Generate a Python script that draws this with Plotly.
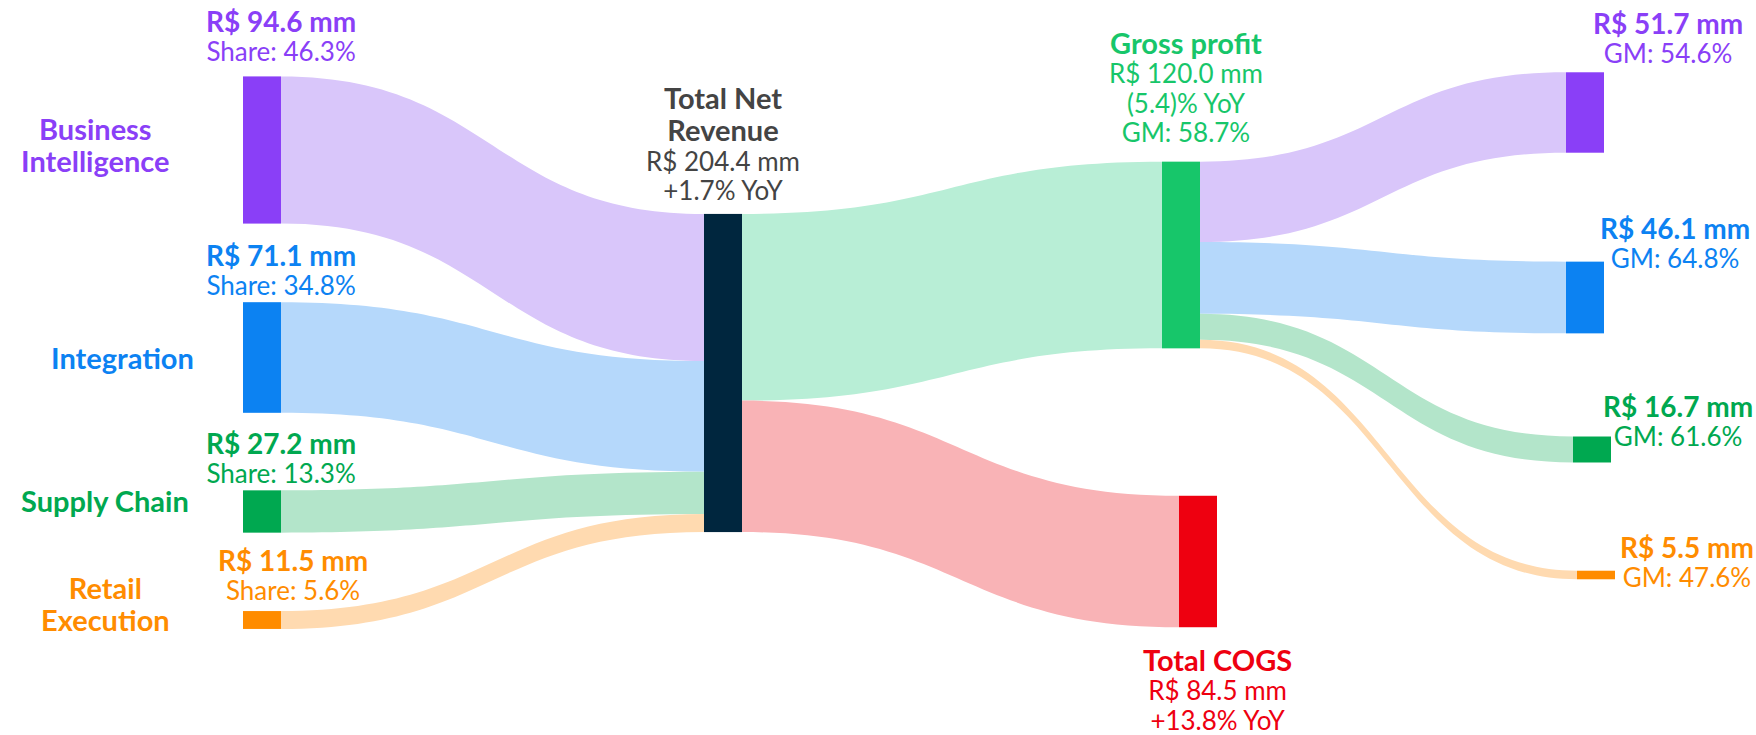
import plotly.graph_objects as go

W, H = 1756, 735

# ---------------- data ----------------
segments = ["Business Intelligence", "Integration", "Supply Chain", "Retail Execution"]
segment_label_lines = [["Business", "Intelligence"], ["Integration"], ["Supply Chain"], ["Retail", "Execution"]]
segment_revenue = [94.6, 71.1, 27.2, 11.5]
segment_share = [46.3, 34.8, 13.3, 5.6]
segment_gross_profit = [51.7, 46.1, 16.7, 5.5]
segment_gm = [54.6, 64.8, 61.6, 47.6]

total_revenue = 204.4
revenue_yoy = "+1.7%"
gross_profit = 120.0
gross_profit_yoy = "(5.4)%"
gross_margin = 58.7
total_cogs = 84.5
cogs_yoy = "+13.8%"

# ---------------- styles ----------------
seg_colors = ["#8A3FF7", "#0C82F2", "#00A850", "#FF8C00"]
seg_link_colors = ["#D9C6FA", "#B5D8FB", "#B3E5CA", "#FFDAB0"]
revenue_color = "#00263E"
gp_color = "#17C66A"
gp_link_color = "#B8EED6"
cogs_color = "#EE0010"
cogs_link_color = "#F9B3B6"
text_dark = "#444444"
FONT = "Lato"

# node positions in pixels (centres)
left_x = [262, 262, 262, 262]
left_y = [150, 357.5, 511.5, 620]
rev_xy = (723, 373)
gp_xy = (1181, 255)
cogs_xy = (1198, 561.5)
right_x = [1585, 1585, 1592, 1596]
right_y = [112.5, 297.5, 449.5, 575]

node_colors = seg_colors + [revenue_color, gp_color, cogs_color] + seg_colors
node_x = left_x + [rev_xy[0], gp_xy[0], cogs_xy[0]] + right_x
node_y = left_y + [rev_xy[1], gp_xy[1], cogs_xy[1]] + right_y

REV, GP, COGS = 4, 5, 6
src, tgt, val, lcol = [], [], [], []
for i, v in enumerate(segment_revenue):
    src.append(i); tgt.append(REV); val.append(v); lcol.append(seg_link_colors[i])
src += [REV, REV]; tgt += [GP, COGS]; val += [gross_profit, total_cogs]; lcol += [gp_link_color, cogs_link_color]
for i, v in enumerate(segment_gross_profit):
    src.append(GP); tgt.append(7 + i); val.append(v); lcol.append(seg_link_colors[i])

fig = go.Figure(go.Sankey(
    arrangement="fixed",
    node=dict(
        label=[""] * 11,
        color=node_colors,
        x=[x / W for x in node_x],
        y=[y / H for y in node_y],
        thickness=38,
        pad=139,
        align="left",
        line=dict(width=0),
    ),
    link=dict(source=src, target=tgt, value=val, color=lcol),
    hoverinfo="skip",
    textfont=dict(size=1, color="rgba(0,0,0,0)"),
))

annotations = []


def bold(t, size=28):
    return f"<b><span style='font-size:{size}px'>{t}</span></b>"


def reg(t, size=26):
    return f"<span style='font-size:{size}px'>{t}</span>"


def add_block(x, y, lines, color, base=22.5):
    annotations.append(dict(
        x=x / W, y=1 - y / H,
        xref="paper", yref="paper",
        text="<br>".join(lines),
        showarrow=False, xanchor="center", yanchor="middle", align="center",
        borderpad=0,
        font=dict(family=FONT, size=base, color=color),
    ))


# segment category labels (left)
cat_pos = [(95, 144), (122, 358), (105, 500), (105, 603)]
for i, lines in enumerate(segment_label_lines):
    add_block(cat_pos[i][0], cat_pos[i][1], [bold(l, 29) for l in lines], seg_colors[i], base=24.6)

# segment value labels (left)
left_val_pos = [(281, 35), (281, 269.5), (281, 457.5), (293, 574)]
for i in range(4):
    x, y = left_val_pos[i]
    add_block(x, y, [bold(f"R$ {segment_revenue[i]:.1f} mm", 28),
                     reg(f"Share: {segment_share[i]:.1f}%", 26)], seg_colors[i])

# total net revenue
add_block(723, 113, [bold("Total Net", 29), bold("Revenue", 29)], text_dark, base=24.6)
add_block(723, 175, [reg(f"R$ {total_revenue:.1f} mm", 26), reg(f"{revenue_yoy} YoY", 26)],
          text_dark, base=22.5)

# gross profit
add_block(1186, 86, [bold("Gross profit", 29), reg(f"R$ {gross_profit:.1f} mm", 26),
                     reg(f"{gross_profit_yoy} YoY", 26), reg(f"GM: {gross_margin:.1f}%", 26)],
          gp_color)

# COGS
add_block(1217, 689, [bold("Total COGS", 29), reg(f"R$ {total_cogs:.1f} mm", 26),
                      reg(f"{cogs_yoy} YoY", 26)], cogs_color)

# right labels
right_val_pos = [(1668, 37), (1675, 243), (1678, 420), (1687, 561.5)]
for i in range(4):
    x, y = right_val_pos[i]
    add_block(x, y, [bold(f"R$ {segment_gross_profit[i]:.1f} mm", 28),
                     reg(f"GM: {segment_gm[i]:.1f}%", 26)], seg_colors[i])

fig.update_layout(
    width=W, height=H,
    margin=dict(l=0, r=0, t=0, b=0),
    paper_bgcolor="white",
    plot_bgcolor="white",
    annotations=annotations,
    font=dict(family=FONT),
)

fig.write_html(
    "out.html",
    config={"displayModeBar": False},
    post_script="document.body.style.margin='0';document.body.style.overflow='hidden';",
)
